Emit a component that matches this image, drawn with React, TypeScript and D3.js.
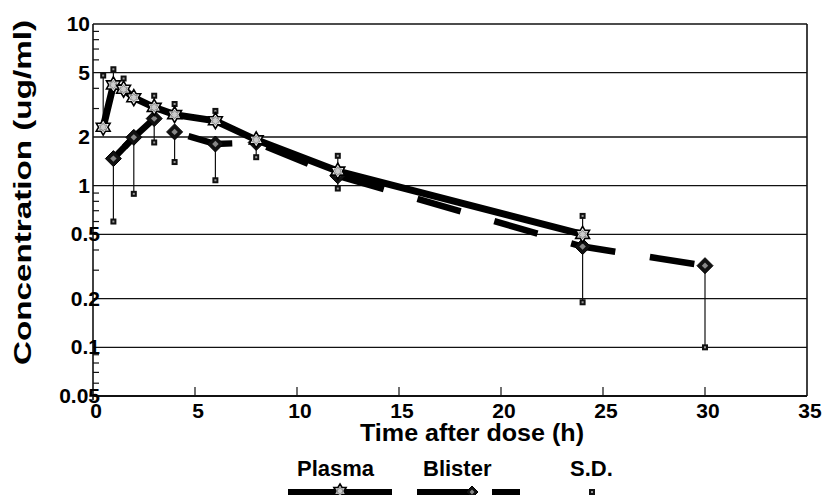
import React from 'react';
import * as d3 from 'd3';

// time points (h) and mean concentrations (ug/ml)
const plasmaTimes = [0.5, 1, 1.5, 2, 3, 4, 6, 8, 12, 24];
const plasmaConc = [2.3, 4.2, 3.95, 3.5, 3.05, 2.75, 2.52, 1.92, 1.23, 0.5];
const blisterTimes = [1, 2, 3, 4, 6, 8, 12, 24, 30];
const blisterConc = [1.47, 1.99, 2.6, 2.15, 1.81, 1.85, 1.15, 0.42, 0.32];

// S.D. ends: plasma drawn above, blister below
const plasmaSdTimes = [0.5, 1, 1.5, 3, 4, 6, 12, 24];
const plasmaSd = [4.8, 5.25, 4.6, 3.6, 3.2, 2.9, 1.53, 0.65];
const blisterSdTimes = [1, 2, 3, 4, 6, 8, 12, 24, 30];
const blisterSd = [0.6, 0.89, 1.85, 1.4, 1.08, 1.5, 0.96, 0.19, 0.1];

const xTicks = [0, 5, 10, 15, 20, 25, 30, 35];
const yTicks = [0.05, 0.1, 0.2, 0.5, 1, 2, 5, 10];
const yTickLabels = ['0.05', '0.1', '0.2', '0.5', '1', '2', '5', '10'];

const FONT = '"Liberation Sans", Arial, Helvetica, sans-serif';

const x = d3.scaleLinear().domain([0, 35]).range([93, 807]);
const y = d3.scaleLog().domain([0.05, 10]).range([396, 24]);

const starPath = (r: number) => {
  const pts: [number, number][] = [];
  for (let i = 0; i < 12; i++) {
    const a = (Math.PI / 6) * i - Math.PI / 2;
    const rr = i % 2 === 0 ? r : r * 0.58;
    pts.push([Math.cos(a) * rr, Math.sin(a) * rr]);
  }
  return 'M' + pts.map(p => p.join(',')).join('L') + 'Z';
};

const Star = ({ cx, cy, r = 8 }: { cx: number; cy: number; r?: number }) => (
  <g transform={`translate(${cx},${cy})`}>
    <path d={starPath(r)} fill="#fff" stroke="#000" strokeWidth={1.6} />
    <path d={starPath(r * 0.55)} fill="#ccc" stroke="#777" strokeWidth={0.8} />
  </g>
);

const Diamond = ({ cx, cy, r = 8 }: { cx: number; cy: number; r?: number }) => (
  <g transform={`translate(${cx},${cy})`}>
    <path d={`M0,${-r}L${r},0L0,${r}L${-r},0Z`} fill="#111" stroke="#000" strokeWidth={1} />
    <path d={`M0,${-r * 0.4}L${r * 0.4},0L0,${r * 0.4}L${-r * 0.4},0Z`} fill="#888" />
  </g>
);

const SdSquare = ({ cx, cy }: { cx: number; cy: number }) => (
  <g>
    <rect x={cx - 3} y={cy - 3} width={6} height={6} fill="#111" />
    <rect x={cx - 1} y={cy - 1} width={2} height={2} fill="#999" />
  </g>
);

export default function App() {
  const plasmaLine = d3.line<number>().x((_, i) => x(plasmaTimes[i])).y(d => y(d));
  const blisterLine = d3.line<number>().x((_, i) => x(blisterTimes[i])).y(d => y(d));

  const minor: number[] = [];
  [0.01, 0.1, 1].forEach(base => {
    for (let m = 2; m <= 9; m++) {
      const v = base * m;
      if (v > 0.05 && v < 10 && !yTicks.some(t => Math.abs(t - v) < 1e-9)) minor.push(v);
    }
  });

  const [x0, x1] = x.range();

  return (
    <svg width={830} height={495} style={{ position: 'absolute', left: 0, top: 0, background: '#fff' }}
      fontFamily={FONT} fontWeight="bold">
      {/* gridlines */}
      {yTicks.map(t => (
        <line key={t} x1={x0} x2={x1} y1={y(t)} y2={y(t)} stroke="#111" strokeWidth={t === 0.05 ? 2 : 1.4} />
      ))}
      <line x1={x0} x2={x0} y1={y(10)} y2={y(0.05) + 4} stroke="#111" strokeWidth={1.6} />
      <line x1={x1} x2={x1} y1={y(10)} y2={y(0.05)} stroke="#111" strokeWidth={1.6} />
      {minor.map(v => (
        <line key={v} x1={x0} x2={x0 + 6} y1={y(v)} y2={y(v)} stroke="#111" strokeWidth={1.2} />
      ))}
      {xTicks.slice(1, -1).map(t => (
        <line key={t} x1={x(t)} x2={x(t)} y1={y(0.05)} y2={y(0.05) - 9} stroke="#111" strokeWidth={1.2} />
      ))}

      {/* tick labels */}
      {yTicks.map((t, i) => (
        <text key={t} x={t < 1 ? 100 : 90} y={y(t) + 7} textAnchor="end" fontSize={21}>{yTickLabels[i]}</text>
      ))}
      {xTicks.map(t => (
        <text key={t} x={x(t) + 3} y={418} textAnchor="middle" fontSize={21}>{t}</text>
      ))}

      {/* axis titles */}
      <text transform={`translate(31,${(18 + 367) / 2}) rotate(-90)`} textAnchor="middle" fontSize={23}
        textLength={345} lengthAdjust="spacingAndGlyphs">Concentration (ug/ml)</text>
      <text x={360} y={441} fontSize={23} textLength={224} lengthAdjust="spacingAndGlyphs">Time after dose (h)</text>

      {/* error bars */}
      {plasmaSdTimes.map((t, i) => {
        const k = plasmaTimes.indexOf(t);
        return <line key={'pe' + t} x1={x(t)} x2={x(t)} y1={y(plasmaConc[k])} y2={y(plasmaSd[i])} stroke="#111" strokeWidth={1.2} />;
      })}
      {blisterSdTimes.map((t, i) => {
        const k = blisterTimes.indexOf(t);
        return <line key={'be' + t} x1={x(t)} x2={x(t)} y1={y(blisterConc[k])} y2={y(blisterSd[i])} stroke="#111" strokeWidth={1.2} />;
      })}

      {/* lines */}
      <path d={blisterLine(blisterConc) || ''} fill="none" stroke="#000" strokeWidth={6.5}
        strokeDasharray="45,35" strokeDashoffset={64} />
      <path d={blisterLine(blisterConc.slice(0, 2)) || ''} fill="none" stroke="#000" strokeWidth={6.5} />
      <path d={plasmaLine(plasmaConc) || ''} fill="none" stroke="#000" strokeWidth={7} />

      {/* markers */}
      {plasmaSdTimes.map((t, i) => <SdSquare key={'ps' + t} cx={x(t)} cy={y(plasmaSd[i])} />)}
      {blisterSdTimes.map((t, i) => <SdSquare key={'bs' + t} cx={x(t)} cy={y(blisterSd[i])} />)}
      {blisterConc.map((v, i) => <Diamond key={'b' + i} cx={x(blisterTimes[i])} cy={y(v)} />)}
      {plasmaConc.map((v, i) => <Star key={'p' + i} cx={x(plasmaTimes[i])} cy={y(v)} />)}

      {/* legend */}
      <text x={297} y={476} fontSize={22}>Plasma</text>
      <text x={423} y={476} fontSize={22}>Blister</text>
      <text x={570} y={476} fontSize={22}>S.D.</text>
      <line x1={288} x2={392} y1={492} y2={492} stroke="#000" strokeWidth={6} />
      <Star cx={340} cy={491} r={7} />
      <line x1={417} x2={470} y1={492} y2={492} stroke="#000" strokeWidth={6} />
      <Diamond cx={472} cy={492} r={6} />
      <line x1={492} x2={520} y1={492} y2={492} stroke="#000" strokeWidth={6} />
      <SdSquare cx={592} cy={492} />
    </svg>
  );
}
